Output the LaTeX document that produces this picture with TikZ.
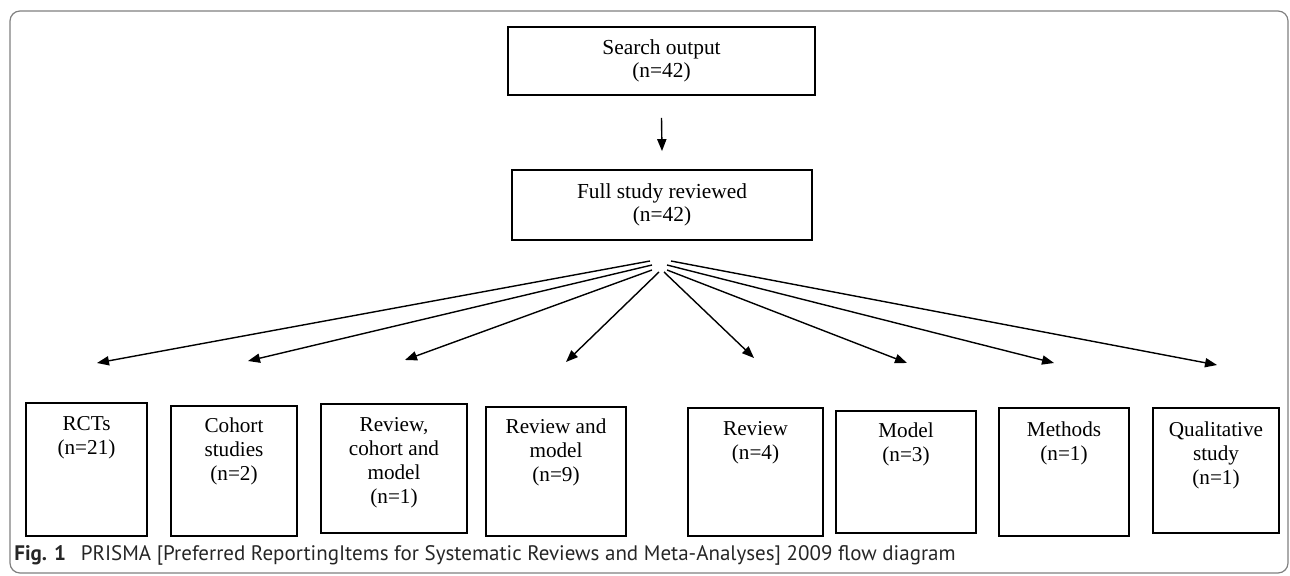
\documentclass[tikz,border=0pt]{standalone}
\usepackage{fontspec}
\setmainfont{Liberation Serif}
\newfontfamily\capfont{PT Sans}
\usetikzlibrary{positioning,arrows.meta}

\begin{document}
\begin{tikzpicture}[x=0.5pt,y=-0.5pt,
        box/.style={draw, line width=0.9pt, inner sep=0pt},
        topbox/.style={box, align=center, font=\fontsize{10.7}{11.5}\selectfont},
        boxtext/.style={align=center, inner sep=0pt, font=\fontsize{10.6}{12}\selectfont},
        arr/.style={-{Triangle[length=6pt,width=4.6pt]}, line width=0.7pt}]
                \useasboundingbox (0,0) rectangle (1290,576);
                \draw[gray, line width=0.6pt, rounded corners=5pt] (10,11) rectangle (1288,573);

                \node[topbox, minimum width=153.5pt, minimum height=34pt] (search) at (661.5,61) {Search output\\(n=42)};
                \node[topbox, minimum width=150pt,   minimum height=35pt] (full)   at (662,205)   {Full study reviewed\\(n=42)};

                \node[box, minimum width=60.5pt, minimum height=66.5pt] (rcts)   at (86.5,469.5) {};
                \node[box, minimum width=63pt,   minimum height=65pt]   (cohort) at (234,471)    {};
                \node[box, minimum width=73pt,   minimum height=64.5pt] (revcm)  at (394,468.5)  {};
                \node[box, minimum width=70pt,   minimum height=64.5pt] (revm)   at (556,471.5)  {};
                \node[box, minimum width=67.5pt, minimum height=64pt]   (review) at (755.5,472)  {};
                \node[box, minimum width=70pt,   minimum height=61pt]   (model)  at (906,472)    {};
                \node[box, minimum width=65pt,   minimum height=64pt]   (meth)   at (1064,472)   {};
                \node[box, minimum width=63pt,   minimum height=62.5pt] (qual)   at (1216,470.5) {};

                \node[boxtext, below=7pt of rcts.north]   {RCTs\\(n=21)};
                \node[boxtext, below=6pt of cohort.north] {Cohort\\studies\\(n=2)};
                \node[boxtext, below=7pt of revcm.north]  {Review,\\cohort and\\model\\(n=1)};
                \node[boxtext, below=6pt of revm.north]   {Review and\\model\\(n=9)};
                \node[boxtext, below=7pt of review.north] {Review\\(n=4)};
                \node[boxtext, below=6pt of model.north]  {Model\\(n=3)};
                \node[boxtext, below=7pt of meth.north]   {Methods\\(n=1)};
                \node[boxtext, below=7pt of qual.north]   {Qualitative\\study\\(n=1)};

                \draw[arr] ([yshift=-11pt]search.south) -- ([yshift=9pt]full.north);

                \coordinate (f1) at (650,261);  \coordinate (e1) at (97,363);
                \coordinate (f2) at (652,265);  \coordinate (e2) at (248,361);
                \coordinate (f3) at (652,270);  \coordinate (e3) at (405,360);
                \coordinate (f4) at (659,272);  \coordinate (e4) at (566,362);
                \coordinate (f5) at (664,272);  \coordinate (e5) at (754,358);
                \coordinate (f6) at (667,270);  \coordinate (e6) at (907,363);
                \coordinate (f7) at (667,265);  \coordinate (e7) at (1054,363);
                \coordinate (f8) at (671,261);  \coordinate (e8) at (1217,365);

                \path[arr]
                (f1) edge (e1)
                (f2) edge (e2)
                (f3) edge (e3)
                (f4) edge (e4)
                (f5) edge (e5)
                (f6) edge (e6)
                (f7) edge (e7)
                (f8) edge (e8);

                \node[anchor=base west, inner sep=0pt, text=black!85, font=\capfont\fontsize{10.5}{12}\selectfont] (caption) at (14,560)
                {\textbf{Fig. 1}\hspace{0.7em}PRISMA [Preferred ReportingItems for Systematic Reviews and Meta-Analyses] 2009 flow diagram};
            \end{tikzpicture}
\end{document}
